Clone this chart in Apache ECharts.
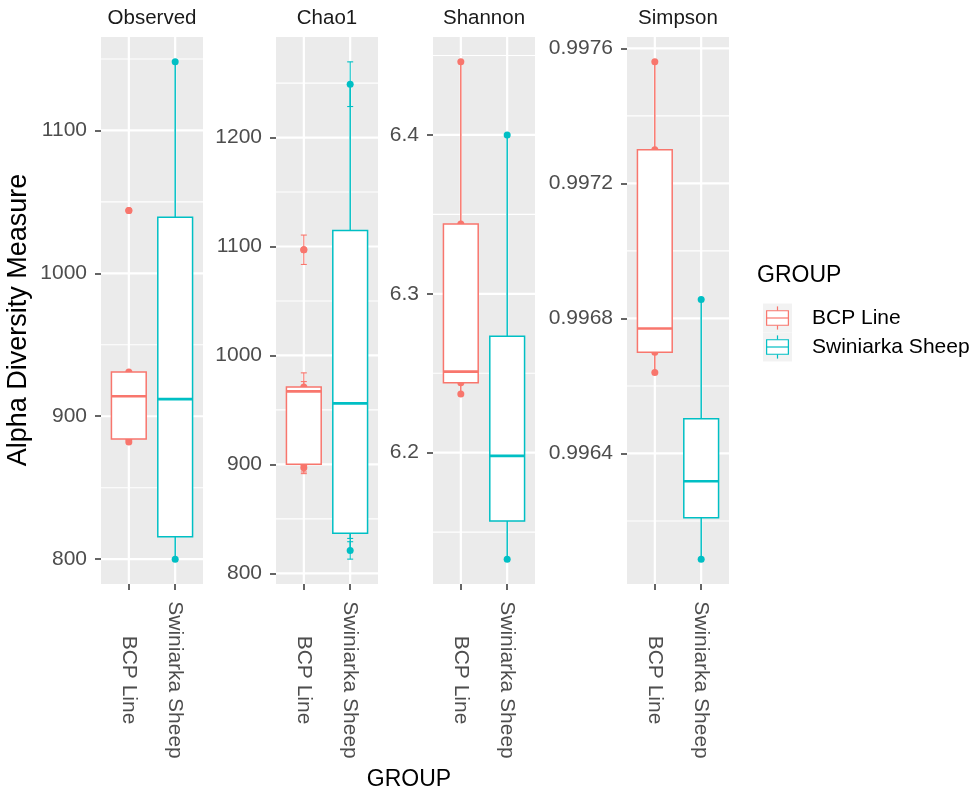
<!DOCTYPE html>
<html>
<head>
<meta charset="utf-8">
<script src="https://cdn.jsdelivr.net/npm/echarts@6/dist/echarts.min.js"></script>
<style>
  html, body { margin: 0; padding: 0; background: #ffffff; }
  #chart { width: 978px; height: 794px; }
</style>
</head>
<body>
<div id="chart"></div>
<script>
// Groups and facet names
const groups = ['BCP Line', 'Swiniarka Sheep'];
const groupColors = ['#F8766D', '#00BFC4'];
const measures = ['Observed', 'Chao1', 'Shannon', 'Simpson'];

// Per-sample alpha diversity values
const observedBCP = [882, 884, 914, 931, 1044];
const observedSwin = [800, 821, 1003, 1148];
const chao1BCP = [897, 900, 967, 971, 1097];
const chao1Swin = [821, 842, 1070, 1249];
const shannonBCP = [6.237, 6.244, 6.251, 6.344, 6.446];
const shannonSwin = [6.133, 6.165, 6.231, 6.400];
const simpsonBCP = [0.99664, 0.99670, 0.99677, 0.99730, 0.99756];
const simpsonSwin = [0.996087, 0.996250, 0.996385, 0.996856];

// Standard errors of the Chao1 estimates
const chao1SeBCP = [5.5, 7, 9, 13, 13.5];
const chao1SeSwin = [8, 10, 14, 20.5];

// Axis breaks per facet
const observedTicks = [800, 900, 1000, 1100];
const chao1Ticks = [800, 900, 1000, 1100, 1200];
const shannonTicks = [6.2, 6.3, 6.4];
const simpsonTicks = [0.9964, 0.9968, 0.9972, 0.9976];

const panels = [
  { name: measures[0], values: [observedBCP, observedSwin], se: null, ticks: observedTicks, digits: 0 },
  { name: measures[1], values: [chao1BCP, chao1Swin], se: [chao1SeBCP, chao1SeSwin], ticks: chao1Ticks, digits: 0 },
  { name: measures[2], values: [shannonBCP, shannonSwin], se: null, ticks: shannonTicks, digits: 1 },
  { name: measures[3], values: [simpsonBCP, simpsonSwin], se: null, ticks: simpsonTicks, digits: 4 }
];

// Layout
const FONT = '"Liberation Sans", Arial, sans-serif';
const panelLeft = [101, 276, 433, 627];
const panelWidth = 102;
const panelTop = 37;
const panelHeight = 547;
const boxHalfWidth = 0.375;

function quantile(sorted, p) {
  const h = (sorted.length - 1) * p;
  const lo = Math.floor(h);
  const hi = Math.min(lo + 1, sorted.length - 1);
  return sorted[lo] + (h - lo) * (sorted[hi] - sorted[lo]);
}

function boxStats(vals) {
  const s = vals.slice().sort((a, b) => a - b);
  const q1 = quantile(s, 0.25), med = quantile(s, 0.5), q3 = quantile(s, 0.75);
  const iqr = q3 - q1;
  const inside = s.filter(v => v >= q1 - 1.5 * iqr && v <= q3 + 1.5 * iqr);
  const outliers = s.filter(v => v < q1 - 1.5 * iqr || v > q3 + 1.5 * iqr);
  return { low: inside[0], q1, med, q3, high: inside[inside.length - 1], outliers };
}

const grids = [], xAxes = [], yAxes = [], series = [], titles = [];

panels.forEach((p, i) => {
  // data range including error bars, expanded 5% like the default continuous scale
  let lo = Infinity, hi = -Infinity;
  p.values.forEach((arr, g) => arr.forEach((v, k) => {
    const e = p.se ? p.se[g][k] : 0;
    lo = Math.min(lo, v - e); hi = Math.max(hi, v + e);
  }));
  const pad = (hi - lo) * 0.05;
  const yMin = lo - pad, yMax = hi + pad;

  const step = p.ticks[1] - p.ticks[0];
  const minors = [p.ticks[0] - step / 2].concat(p.ticks.map(t => t + step / 2))
    .filter(v => v > yMin && v < yMax);

  grids.push({ left: panelLeft[i], top: panelTop, width: panelWidth, height: panelHeight,
    show: true, backgroundColor: '#EBEBEB', borderWidth: 0 });

  xAxes.push({
    gridIndex: i, type: 'value', min: 0.4, max: 2.6,
    axisLine: { show: false }, splitLine: { show: false },
    axisTick: { show: true, customValues: [1, 2], length: 6, lineStyle: { color: '#333333', width: 1.5 } },
    axisLabel: {
      customValues: [1, 2], formatter: v => groups[Math.round(v) - 1],
      rotate: -90, align: 'center', verticalAlign: 'middle', margin: 96,
      color: '#4D4D4D', fontSize: 21, fontFamily: FONT
    }
  });

  yAxes.push({
    gridIndex: i, type: 'value', min: yMin, max: yMax,
    axisLine: { show: false }, splitLine: { show: false },
    axisTick: { show: true, customValues: p.ticks, length: 6, lineStyle: { color: '#333333', width: 1.5 } },
    axisLabel: {
      customValues: p.ticks, formatter: v => Number(v).toFixed(p.digits),
      color: '#4D4D4D', fontSize: 21, fontFamily: FONT, margin: 14
    }
  });

  titles.push({
    text: p.name, left: panelLeft[i] + panelWidth / 2, top: 8, textAlign: 'center', padding: 0,
    textStyle: { color: '#1A1A1A', fontSize: 20.5, fontWeight: 'normal', fontFamily: FONT }
  });

  // panel grid lines
  const gridData = [];
  minors.forEach(v => gridData.push([0, v, 0]));
  p.ticks.forEach(v => gridData.push([0, v, 1]));
  [1, 2].forEach(x => gridData.push([1, x, 1]));
  series.push({
    type: 'custom', xAxisIndex: i, yAxisIndex: i, z: 1, silent: true,
    data: gridData,
    renderItem: (params, api) => {
      const cs = params.coordSys;
      const kind = api.value(0), v = api.value(1), major = api.value(2);
      const w = major ? 2.2 : 1.1;
      if (kind === 0) {
        const yy = api.coord([1, v])[1];
        return { type: 'line', shape: { x1: cs.x, y1: yy, x2: cs.x + cs.width, y2: yy },
          style: { stroke: '#FFFFFF', lineWidth: w } };
      }
      const xx = api.coord([v, yMin])[0];
      return { type: 'line', shape: { x1: xx, y1: cs.y, x2: xx, y2: cs.y + cs.height },
        style: { stroke: '#FFFFFF', lineWidth: w } };
    }
  });

  p.values.forEach((arr, g) => {
    const x = g + 1;
    // Chao1 standard-error bars
    if (p.se) {
      series.push({
        type: 'custom', xAxisIndex: i, yAxisIndex: i, z: 2, silent: true,
        data: arr.map((v, k) => [x, v - p.se[g][k], v + p.se[g][k]]),
        encode: { x: 0, y: [1, 2] },
        renderItem: (params, api) => {
          const a = api.coord([api.value(0), api.value(1)]);
          const b = api.coord([api.value(0), api.value(2)]);
          const cap = 3;
          const st = { stroke: groupColors[g], lineWidth: 1.1 };
          return { type: 'group', children: [
            { type: 'line', shape: { x1: a[0], y1: a[1], x2: b[0], y2: b[1] }, style: st },
            { type: 'line', shape: { x1: a[0] - cap, y1: a[1], x2: a[0] + cap, y2: a[1] }, style: st },
            { type: 'line', shape: { x1: b[0] - cap, y1: b[1], x2: b[0] + cap, y2: b[1] }, style: st }
          ] };
        }
      });
    }
    // sample points
    series.push({
      name: groups[g], type: 'scatter', xAxisIndex: i, yAxisIndex: i, z: 3, silent: true,
      symbolSize: 7, itemStyle: { color: groupColors[g], opacity: 1 },
      data: arr.map(v => [x, v])
    });
    // box and whiskers
    const st = boxStats(arr);
    series.push({
      type: 'custom', xAxisIndex: i, yAxisIndex: i, z: 4, silent: true,
      data: [[x, st.low, st.q1, st.med, st.q3, st.high]],
      encode: { x: 0, y: [1, 2, 3, 4, 5] },
      renderItem: (params, api) => {
        const cx = api.value(0);
        const col = groupColors[g];
        const pLow = api.coord([cx, api.value(1)]);
        const pQ1 = api.coord([cx - boxHalfWidth, api.value(2)]);
        const pMed = api.coord([cx, api.value(3)]);
        const pQ3 = api.coord([cx + boxHalfWidth, api.value(4)]);
        const pHigh = api.coord([cx, api.value(5)]);
        const lw = 1.5;
        return { type: 'group', children: [
          { type: 'line', shape: { x1: pLow[0], y1: pLow[1], x2: pLow[0], y2: pQ1[1] }, style: { stroke: col, lineWidth: lw } },
          { type: 'line', shape: { x1: pHigh[0], y1: pHigh[1], x2: pHigh[0], y2: pQ3[1] }, style: { stroke: col, lineWidth: lw } },
          { type: 'rect', shape: { x: pQ1[0], y: pQ3[1], width: pQ3[0] - pQ1[0], height: pQ1[1] - pQ3[1] },
            style: { fill: '#FFFFFF', stroke: col, lineWidth: lw } },
          { type: 'line', shape: { x1: pQ1[0], y1: pMed[1], x2: pQ3[0], y2: pMed[1] }, style: { stroke: col, lineWidth: 2.6 } }
        ] };
      }
    });
    // outliers
    if (st.outliers.length) {
      series.push({
        type: 'scatter', xAxisIndex: i, yAxisIndex: i, z: 5, silent: true,
        symbolSize: 7, itemStyle: { color: groupColors[g], opacity: 1 },
        data: st.outliers.map(v => [x, v])
      });
    }
  });
});

// axis titles and legend drawn as box-plot keys
const legendLeft = 757;
const keyX = 763, keySize = 29;
const keyCenters = [318, 347];
const graphics = [
  { type: 'text', x: 19, y: 320, rotation: Math.PI / 2,
    style: { text: 'Alpha Diversity Measure', font: '27px ' + FONT, fill: '#000000', textAlign: 'center', textVerticalAlign: 'middle' } },
  { type: 'text', x: 409, y: 780, style: { text: 'GROUP', font: '23px ' + FONT, fill: '#000000', textAlign: 'center', textVerticalAlign: 'middle' } },
  { type: 'text', x: legendLeft, y: 276, style: { text: 'GROUP', font: '23px ' + FONT, fill: '#000000', textAlign: 'left', textVerticalAlign: 'middle' } }
];
groups.forEach((name, g) => {
  const cy = keyCenters[g];
  const top = cy - keySize / 2;
  const col = groupColors[g];
  const bx = keyX + keySize * 0.125, bw = keySize * 0.75;
  graphics.push({ type: 'rect', shape: { x: keyX, y: top, width: keySize, height: keySize }, style: { fill: '#F2F2F2' } });
  graphics.push({ type: 'line', shape: { x1: keyX + keySize / 2, y1: top + keySize * 0.1, x2: keyX + keySize / 2, y2: top + keySize * 0.25 }, style: { stroke: col, lineWidth: 1.2 } });
  graphics.push({ type: 'line', shape: { x1: keyX + keySize / 2, y1: top + keySize * 0.75, x2: keyX + keySize / 2, y2: top + keySize * 0.9 }, style: { stroke: col, lineWidth: 1.2 } });
  graphics.push({ type: 'rect', shape: { x: bx, y: top + keySize * 0.25, width: bw, height: keySize * 0.5 }, style: { fill: '#FFFFFF', stroke: col, lineWidth: 1.2 } });
  graphics.push({ type: 'line', shape: { x1: bx, y1: cy, x2: bx + bw, y2: cy }, style: { stroke: col, lineWidth: 1.2 } });
  graphics.push({ type: 'text', x: 812, y: cy, style: { text: name, font: '21px ' + FONT, fill: '#000000', textAlign: 'left', textVerticalAlign: 'middle' } });
});

const chart = echarts.init(document.getElementById('chart'), null, { renderer: 'canvas' });
chart.setOption({
  backgroundColor: '#FFFFFF',
  animation: false,
  title: titles,
  grid: grids,
  xAxis: xAxes,
  yAxis: yAxes,
  series: series,
  graphic: graphics
});
</script>
</body>
</html>
